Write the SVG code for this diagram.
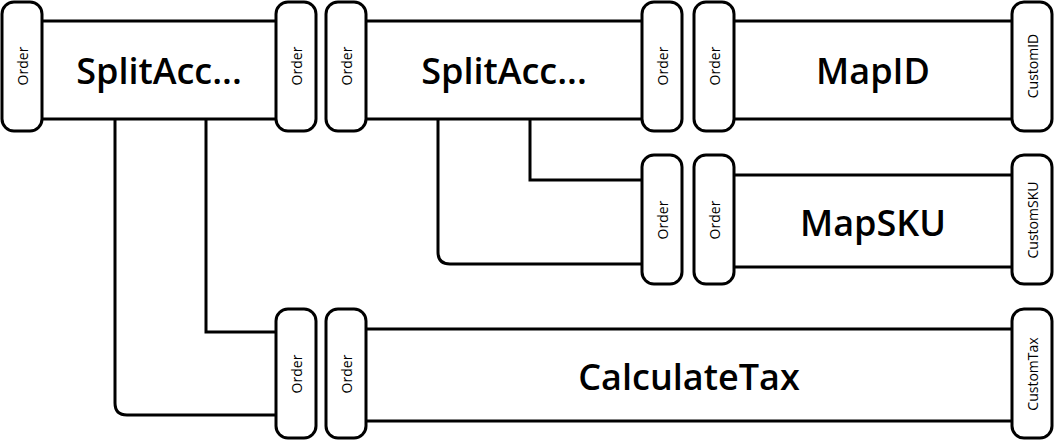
<svg xmlns="http://www.w3.org/2000/svg" width="1054" height="442" viewBox="0 0 1054 442">
<style>
.p{fill:#fff;stroke:#000;stroke-width:3}
.b{fill:#fff;stroke:#000;stroke-width:3}
.c{fill:none;stroke:#000;stroke-width:3}
.t{font-family:"Open Sans",sans-serif;font-size:36px;font-weight:600;fill:#000;text-anchor:middle;dominant-baseline:central}
.l{font-family:"Open Sans",sans-serif;font-size:14px;fill:#000;text-anchor:middle;dominant-baseline:central}
</style>
<rect width="1054" height="442" fill="#fff"/>
<g id="connectors">
<path class="c" d="M115 120 V403 Q115 415 127 415 H278"/>
<path class="c" d="M206 120 V332 H278"/>
<path class="c" d="M438 120 V252 Q438 264 450 264 H644"/>
<path class="c" d="M530 120 V180 H644"/>
</g>
<g id="split1">
<rect class="b" x="40" y="21" width="238" height="98"/>
<text class="t" x="159" y="70">SplitAcc...</text>
<rect class="p" x="2" y="2" width="40" height="129" rx="12"/>
<text class="l" transform="translate(22 66) rotate(-90)">Order</text>
<rect class="p" x="276" y="2" width="40" height="129" rx="12"/>
<text class="l" transform="translate(296 66) rotate(-90)">Order</text>
</g>
<g id="split2">
<rect class="b" x="364" y="21" width="280" height="98"/>
<text class="t" x="504" y="70">SplitAcc...</text>
<rect class="p" x="326" y="2" width="40" height="129" rx="12"/>
<text class="l" transform="translate(346 66) rotate(-90)">Order</text>
<rect class="p" x="642" y="2" width="40" height="129" rx="12"/>
<text class="l" transform="translate(662 66) rotate(-90)">Order</text>
</g>
<g id="mapid">
<rect class="b" x="732" y="21" width="282" height="98"/>
<text class="t" x="873" y="70">MapID</text>
<rect class="p" x="694" y="2" width="40" height="129" rx="12"/>
<text class="l" transform="translate(714 66) rotate(-90)">Order</text>
<rect class="p" x="1012" y="2" width="40" height="129" rx="12"/>
<text class="l" transform="translate(1032 66) rotate(-90)">CustomID</text>
</g>
<g id="mapsku">
<rect class="b" x="732" y="175" width="282" height="92"/>
<text class="t" x="873" y="222">MapSKU</text>
<rect class="p" x="642" y="155" width="40" height="129" rx="12"/>
<text class="l" transform="translate(662 220) rotate(-90)">Order</text>
<rect class="p" x="694" y="155" width="40" height="129" rx="12"/>
<text class="l" transform="translate(714 220) rotate(-90)">Order</text>
<rect class="p" x="1012" y="155" width="40" height="129" rx="12"/>
<text class="l" transform="translate(1032 220) rotate(-90)">CustomSKU</text>
</g>
<g id="calctax">
<rect class="b" x="364" y="329" width="650" height="92"/>
<text class="t" x="689" y="376">CalculateTax</text>
<rect class="p" x="276" y="309" width="40" height="129" rx="12"/>
<text class="l" transform="translate(296 374) rotate(-90)">Order</text>
<rect class="p" x="326" y="309" width="40" height="129" rx="12"/>
<text class="l" transform="translate(346 374) rotate(-90)">Order</text>
<rect class="p" x="1012" y="309" width="40" height="129" rx="12"/>
<text class="l" transform="translate(1032 374) rotate(-90)">CustomTax</text>
</g>
</svg>
